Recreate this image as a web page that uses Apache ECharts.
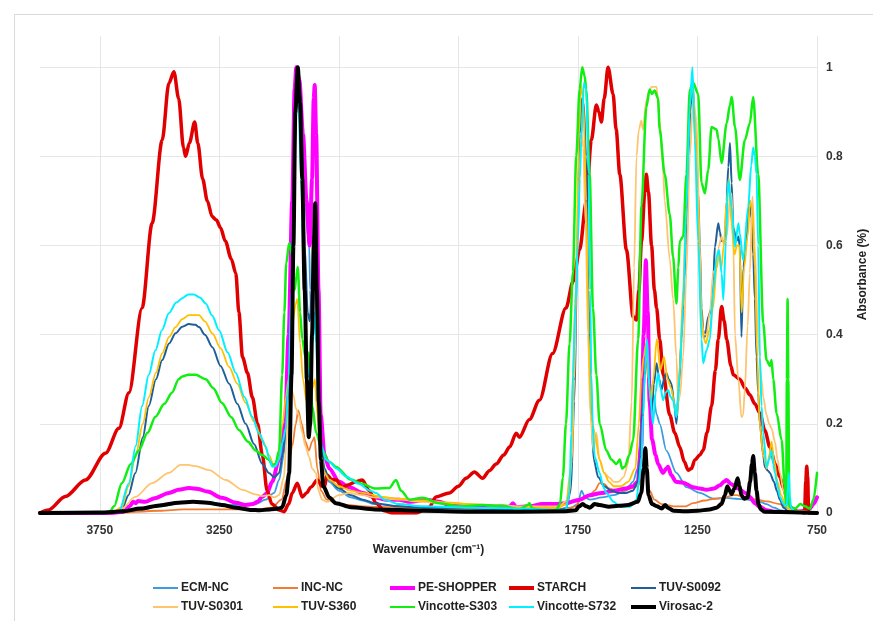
<!DOCTYPE html>
<html>
<head>
<meta charset="utf-8">
<script src="https://cdn.jsdelivr.net/npm/echarts@6/dist/echarts.min.js"></script>
<style>
html,body{margin:0;padding:0;background:#fff;}
#chart{width:873px;height:621px;}
</style>
</head>
<body>
<div id="chart"></div>
<script>
// ---- data: [wavenumber (cm-1), absorbance] ----
const seriesNames = ['ECM-NC','INC-NC','PE-SHOPPER','STARCH','TUV-S0092','TUV-S0301','TUV-S360','Vincotte-S303','Vincotte-S732','Virosac-2'];

const ecmNc = [[4000,0],[3700,0],[3600,0.005],[3500,0.015],[3400,0.024],[3350,0.026],[3300,0.025],[3200,0.018],[3100,0.02],[3056,0.03],[3021,0.045],[3000,0.074],[2980,0.13],[2965,0.25],[2950,0.5],[2938,0.8],[2925,0.93],[2915,0.9],[2903,0.8],[2890,0.7],[2880,0.62],[2874,0.6],[2870,0.5],[2866,0.44],[2858,0.5],[2851,0.56],[2843,0.42],[2833,0.25],[2822,0.13],[2810,0.09],[2790,0.07],[2750,0.05],[2700,0.035],[2650,0.028],[2600,0.02],[2500,0.015],[2400,0.012],[2200,0.01],[2000,0.008],[1850,0.008],[1780,0.012],[1750,0.02],[1735,0.05],[1720,0.035],[1700,0.03],[1650,0.035],[1600,0.04],[1550,0.05],[1520,0.07],[1500,0.1],[1485,0.2],[1472,0.32],[1464,0.34],[1455,0.3],[1436,0.27],[1420,0.22],[1408,0.2],[1380,0.14],[1338,0.09],[1296,0.058],[1240,0.045],[1184,0.032],[1128,0.034],[1090,0.032],[1045,0.03],[989,0.025],[961,0.02],[930,0.012],[900,0.006],[870,0.003],[750,0]];

const incNc = [[4000,0],[3700,0],[3500,0.005],[3400,0.008],[3300,0.008],[3100,0.008],[3030,0.012],[2990,0.03],[2965,0.08],[2945,0.15],[2930,0.2],[2920,0.23],[2905,0.2],[2890,0.16],[2875,0.14],[2862,0.16],[2852,0.17],[2840,0.1],[2825,0.05],[2800,0.03],[2750,0.02],[2650,0.015],[2500,0.012],[2300,0.01],[2000,0.008],[1800,0.008],[1760,0.015],[1740,0.03],[1720,0.035],[1700,0.04],[1680,0.05],[1659,0.067],[1640,0.065],[1620,0.055],[1590,0.05],[1560,0.05],[1530,0.055],[1500,0.06],[1480,0.08],[1468,0.1],[1460,0.08],[1450,0.05],[1430,0.03],[1400,0.02],[1350,0.015],[1300,0.015],[1268,0.022],[1220,0.028],[1180,0.032],[1142,0.034],[1100,0.04],[1086,0.04],[1050,0.035],[1000,0.03],[960,0.026],[905,0.02],[877,0.012],[850,0.006],[820,0.003],[750,0]];

const peShopper = [[4000,0],[3700,0],[3650,0.003],[3625,0.015],[3610,0.025],[3600,0.022],[3590,0.027],[3560,0.025],[3520,0.033],[3461,0.045],[3420,0.052],[3377,0.056],[3340,0.054],[3300,0.048],[3239,0.034],[3180,0.023],[3140,0.018],[3110,0.02],[3090,0.025],[3071,0.036],[3050,0.045],[3029,0.07],[3000,0.12],[2975,0.2],[2960,0.4],[2945,0.7],[2935,0.95],[2928,1.0],[2915,0.97],[2900,0.85],[2885,0.7],[2872,0.6],[2862,0.75],[2855,0.93],[2851,0.96],[2845,0.85],[2835,0.5],[2826,0.22],[2810,0.13],[2790,0.1],[2749,0.07],[2707,0.058],[2650,0.045],[2600,0.035],[2550,0.03],[2500,0.03],[2450,0.025],[2385,0.03],[2330,0.025],[2288,0.018],[2200,0.015],[2100,0.015],[2036,0.014],[2022,0.022],[2008,0.013],[1950,0.015],[1900,0.02],[1850,0.02],[1800,0.022],[1743,0.03],[1701,0.04],[1650,0.045],[1600,0.05],[1550,0.055],[1520,0.06],[1500,0.07],[1485,0.15],[1475,0.4],[1466,0.567],[1458,0.45],[1450,0.25],[1440,0.165],[1425,0.13],[1415,0.11],[1394,0.09],[1380,0.1],[1373,0.104],[1360,0.085],[1340,0.07],[1310,0.068],[1268,0.058],[1240,0.055],[1212,0.052],[1180,0.055],[1156,0.062],[1140,0.07],[1128,0.074],[1110,0.065],[1080,0.055],[1050,0.045],[1031,0.036],[1010,0.022],[989,0.014],[960,0.006],[930,0.003],[850,0.002],[800,0.005],[780,0.01],[765,0.02],[750,0.035]];

const starch = [[4000,0],[3964,0.007],[3894,0.037],[3810,0.074],[3726,0.134],[3670,0.19],[3628,0.27],[3573,0.46],[3531,0.65],[3489,0.836],[3461,0.964],[3440,0.99],[3420,0.93],[3400,0.82],[3391,0.80],[3375,0.83],[3353,0.877],[3340,0.83],[3320,0.75],[3300,0.70],[3280,0.665],[3262,0.657],[3245,0.64],[3225,0.61],[3200,0.57],[3181,0.538],[3168,0.45],[3153,0.35],[3132,0.314],[3112,0.26],[3090,0.2],[3070,0.13],[3050,0.05],[3030,0.02],[3000,0.007],[2979,0.003],[2960,0.02],[2945,0.045],[2924,0.067],[2903,0.036],[2885,0.045],[2867,0.058],[2840,0.074],[2820,0.06],[2811,0.058],[2799,0.085],[2780,0.075],[2761,0.074],[2736,0.058],[2710,0.063],[2680,0.07],[2652,0.074],[2623,0.05],[2594,0.022],[2560,0.005],[2526,0],[2426,0],[2390,0.008],[2372,0.013],[2344,0.036],[2288,0.045],[2250,0.06],[2218,0.078],[2183,0.092],[2149,0.078],[2120,0.095],[2092,0.11],[2060,0.13],[2036,0.148],[2008,0.179],[1995,0.17],[1953,0.21],[1911,0.253],[1856,0.358],[1800,0.46],[1770,0.52],[1743,0.59],[1715,0.70],[1694,0.836],[1673,0.915],[1662,0.9],[1652,0.877],[1640,0.93],[1624,1.0],[1603,0.94],[1590,0.86],[1575,0.76],[1547,0.59],[1519,0.44],[1505,0.433],[1495,0.5],[1484,0.61],[1470,0.72],[1464,0.76],[1455,0.72],[1442,0.6],[1430,0.5],[1421,0.46],[1408,0.39],[1393,0.31],[1366,0.22],[1345,0.18],[1324,0.148],[1305,0.115],[1289,0.096],[1275,0.1],[1261,0.119],[1240,0.13],[1226,0.141],[1210,0.18],[1191,0.24],[1175,0.32],[1163,0.39],[1149,0.463],[1138,0.43],[1128,0.39],[1110,0.33],[1100,0.31],[1073,0.30],[1050,0.28],[1031,0.265],[1010,0.245],[989,0.224],[968,0.185],[947,0.148],[925,0.11],[905,0.08],[890,0.055],[877,0.036],[863,0.015],[850,0.007],[820,0.002],[802,0],[797,0.07],[793,0.105],[789,0.08],[785,0],[750,0]];

const tuvS0092 = [[4000,0],[3700,0],[3658,0.007],[3630,0.04],[3601,0.09],[3570,0.17],[3545,0.24],[3515,0.3],[3489,0.343],[3460,0.38],[3433,0.403],[3405,0.418],[3377,0.424],[3350,0.422],[3335,0.417],[3310,0.4],[3279,0.372],[3245,0.33],[3209,0.29],[3175,0.245],[3140,0.2],[3105,0.155],[3070,0.11],[3042,0.09],[3020,0.08],[3000,0.09],[2985,0.13],[2970,0.2],[2958,0.3],[2945,0.5],[2935,0.8],[2925,0.97],[2915,0.97],[2905,0.85],[2893,0.6],[2880,0.45],[2872,0.43],[2862,0.5],[2853,0.6],[2845,0.5],[2835,0.3],[2825,0.16],[2810,0.1],[2790,0.075],[2750,0.055],[2700,0.04],[2650,0.03],[2600,0.022],[2500,0.015],[2400,0.012],[2200,0.01],[2000,0.007],[1850,0.006],[1800,0.01],[1780,0.05],[1765,0.25],[1752,0.6],[1742,0.85],[1734,0.93],[1726,0.92],[1716,0.8],[1706,0.5],[1696,0.25],[1684,0.12],[1665,0.08],[1640,0.06],[1610,0.05],[1580,0.045],[1550,0.045],[1520,0.05],[1500,0.07],[1490,0.12],[1478,0.25],[1468,0.33],[1457,0.343],[1448,0.26],[1442,0.224],[1432,0.29],[1421,0.336],[1410,0.3],[1400,0.276],[1390,0.3],[1380,0.314],[1370,0.3],[1359,0.29],[1348,0.25],[1338,0.2],[1328,0.28],[1317,0.39],[1305,0.52],[1296,0.65],[1288,0.8],[1280,0.9],[1271,0.97],[1261,0.874],[1254,0.8],[1247,0.72],[1240,0.6],[1233,0.46],[1226,0.41],[1219,0.395],[1205,0.44],[1191,0.46],[1184,0.52],[1177,0.597],[1163,0.65],[1156,0.63],[1149,0.61],[1135,0.61],[1128,0.7],[1121,0.776],[1114,0.83],[1107,0.74],[1100,0.64],[1086,0.61],[1079,0.62],[1073,0.6],[1066,0.395],[1058,0.55],[1045,0.62],[1031,0.70],[1024,0.66],[1017,0.58],[1010,0.48],[1003,0.35],[996,0.27],[989,0.2],[975,0.13],[968,0.103],[955,0.095],[947,0.09],[930,0.07],[918,0.05],[905,0.03],[890,0.012],[870,0.004],[750,0]];

const tuvS0301 = [[4000,0],[3700,0],[3658,0.01],[3601,0.036],[3531,0.067],[3461,0.09],[3412,0.108],[3380,0.108],[3349,0.105],[3293,0.096],[3223,0.074],[3153,0.052],[3100,0.042],[3070,0.038],[3042,0.04],[3020,0.035],[3000,0.04],[2980,0.08],[2970,0.15],[2960,0.24],[2950,0.28],[2940,0.265],[2930,0.235],[2918,0.22],[2903,0.18],[2890,0.15],[2874,0.126],[2862,0.1],[2846,0.09],[2835,0.05],[2820,0.03],[2800,0.025],[2750,0.04],[2707,0.045],[2650,0.04],[2600,0.035],[2497,0.03],[2400,0.025],[2300,0.022],[2200,0.02],[2100,0.018],[2000,0.015],[1900,0.015],[1830,0.015],[1790,0.03],[1775,0.12],[1765,0.3],[1755,0.55],[1745,0.75],[1735,0.85],[1728,0.82],[1718,0.65],[1708,0.4],[1698,0.22],[1685,0.14],[1673,0.18],[1660,0.12],[1640,0.09],[1620,0.08],[1600,0.07],[1580,0.07],[1560,0.08],[1540,0.11],[1525,0.25],[1515,0.55],[1505,0.8],[1495,0.86],[1485,0.88],[1478,0.86],[1464,0.926],[1450,0.95],[1442,0.956],[1421,0.956],[1408,0.88],[1395,0.78],[1387,0.7],[1366,0.57],[1352,0.48],[1338,0.35],[1331,0.247],[1324,0.26],[1310,0.35],[1296,0.54],[1282,0.8],[1268,0.93],[1254,0.88],[1240,0.6],[1233,0.43],[1222,0.4],[1212,0.4],[1198,0.45],[1184,0.54],[1170,0.55],[1160,0.6],[1149,0.62],[1138,0.6],[1128,0.62],[1114,0.7],[1107,0.717],[1100,0.6],[1093,0.4],[1079,0.3],[1066,0.215],[1059,0.22],[1052,0.276],[1040,0.42],[1031,0.538],[1020,0.71],[1010,0.6],[996,0.39],[982,0.3],[975,0.26],[961,0.22],[950,0.2],[940,0.19],[926,0.16],[915,0.12],[905,0.09],[890,0.05],[877,0.022],[860,0.006],[750,0]];

const tuvS360 = [[4000,0],[3700,0],[3658,0.013],[3630,0.06],[3601,0.126],[3570,0.2],[3545,0.26],[3515,0.315],[3489,0.358],[3460,0.395],[3433,0.417],[3405,0.435],[3377,0.444],[3335,0.444],[3310,0.43],[3279,0.403],[3245,0.37],[3209,0.328],[3175,0.29],[3140,0.247],[3105,0.205],[3070,0.164],[3042,0.13],[3021,0.104],[3005,0.12],[2985,0.2],[2972,0.26],[2960,0.3],[2945,0.42],[2930,0.47],[2924,0.48],[2912,0.38],[2900,0.3],[2885,0.25],[2874,0.24],[2860,0.28],[2850,0.3],[2840,0.22],[2828,0.14],[2810,0.09],[2790,0.075],[2750,0.06],[2700,0.05],[2650,0.045],[2568,0.036],[2500,0.032],[2400,0.028],[2300,0.024],[2200,0.02],[2100,0.016],[2000,0.012],[1900,0.012],[1830,0.012],[1800,0.02],[1780,0.1],[1760,0.5],[1745,0.85],[1737,0.96],[1728,0.93],[1715,0.7],[1705,0.4],[1695,0.22],[1680,0.18],[1660,0.12],[1640,0.09],[1620,0.07],[1600,0.06],[1570,0.06],[1540,0.07],[1510,0.1],[1495,0.2],[1485,0.3],[1475,0.35],[1465,0.38],[1455,0.3],[1445,0.25],[1435,0.3],[1420,0.39],[1405,0.32],[1390,0.35],[1375,0.3],[1360,0.28],[1345,0.24],[1335,0.22],[1325,0.32],[1310,0.5],[1295,0.75],[1282,0.92],[1272,0.97],[1262,0.9],[1250,0.72],[1238,0.5],[1228,0.4],[1215,0.38],[1200,0.41],[1185,0.46],[1170,0.55],[1160,0.58],[1150,0.55],[1140,0.6],[1128,0.7],[1118,0.75],[1108,0.65],[1095,0.58],[1085,0.6],[1075,0.6],[1065,0.45],[1055,0.55],[1040,0.62],[1030,0.7],[1020,0.68],[1010,0.55],[1000,0.35],[990,0.2],[975,0.13],[960,0.1],[950,0.13],[940,0.16],[930,0.12],[915,0.07],[900,0.04],[880,0.015],[860,0.005],[750,0]];

const vincotteS303 = [[4000,0],[3712,0],[3690,0.015],[3658,0.067],[3620,0.11],[3587,0.14],[3550,0.18],[3517,0.216],[3480,0.245],[3448,0.27],[3420,0.3],[3405,0.306],[3380,0.31],[3349,0.31],[3307,0.3],[3275,0.28],[3239,0.247],[3200,0.215],[3168,0.186],[3130,0.16],[3098,0.14],[3070,0.13],[3042,0.119],[3029,0.108],[3015,0.11],[3000,0.14],[2987,0.31],[2978,0.45],[2970,0.56],[2958,0.605],[2950,0.59],[2945,0.575],[2935,0.5],[2928,0.53],[2922,0.552],[2912,0.45],[2903,0.39],[2890,0.35],[2882,0.343],[2876,0.36],[2870,0.3],[2861,0.24],[2845,0.18],[2820,0.14],[2790,0.115],[2763,0.104],[2700,0.075],[2650,0.065],[2600,0.055],[2540,0.056],[2511,0.074],[2490,0.05],[2455,0.03],[2400,0.034],[2330,0.022],[2246,0.015],[2149,0.018],[2066,0.016],[1995,0.008],[1960,0.018],[1953,0.022],[1940,0.01],[1869,0.003],[1841,0.007],[1825,0.02],[1813,0.08],[1800,0.2],[1785,0.38],[1771,0.54],[1757,0.8],[1743,0.95],[1732,1.0],[1722,0.98],[1715,0.95],[1701,0.76],[1687,0.46],[1673,0.31],[1659,0.2],[1631,0.14],[1610,0.12],[1589,0.11],[1575,0.12],[1565,0.1],[1554,0.104],[1535,0.13],[1519,0.164],[1498,0.39],[1484,0.69],[1464,0.91],[1450,0.95],[1440,0.94],[1429,0.948],[1415,0.93],[1408,0.86],[1387,0.76],[1366,0.67],[1352,0.575],[1338,0.47],[1330,0.55],[1324,0.61],[1310,0.62],[1296,0.76],[1282,0.95],[1268,0.965],[1247,0.94],[1233,0.74],[1219,0.717],[1205,0.77],[1191,0.866],[1170,0.86],[1163,0.84],[1149,0.785],[1128,0.874],[1114,0.915],[1107,0.933],[1093,0.866],[1073,0.747],[1052,0.836],[1031,0.874],[1017,0.933],[996,0.76],[975,0.426],[961,0.343],[947,0.33],[940,0.343],[933,0.3],[919,0.224],[898,0.164],[885,0.06],[879,0.014],[876,0.3],[873,0.48],[870,0.3],[866,0.014],[840,0.01],[820,0.02],[800,0.015],[780,0.01],[765,0.03],[750,0.09]];

const vincotteS732 = [[4000,0],[3700,0],[3670,0.003],[3628,0.067],[3600,0.15],[3573,0.24],[3545,0.31],[3517,0.365],[3490,0.41],[3461,0.448],[3430,0.472],[3405,0.482],[3380,0.49],[3356,0.49],[3330,0.483],[3307,0.47],[3280,0.443],[3251,0.41],[3215,0.36],[3181,0.314],[3145,0.26],[3112,0.216],[3085,0.18],[3056,0.149],[3040,0.12],[3029,0.104],[3015,0.105],[3000,0.12],[2985,0.16],[2972,0.19],[2960,0.3],[2948,0.5],[2938,0.75],[2928,0.9],[2918,0.9],[2908,0.75],[2895,0.5],[2882,0.33],[2872,0.3],[2862,0.38],[2853,0.45],[2845,0.38],[2835,0.24],[2822,0.15],[2805,0.12],[2790,0.115],[2760,0.1],[2720,0.082],[2665,0.065],[2620,0.05],[2594,0.045],[2560,0.03],[2500,0.02],[2400,0.015],[2200,0.012],[2000,0.01],[1850,0.007],[1800,0.008],[1785,0.05],[1778,0.18],[1771,0.31],[1760,0.47],[1750,0.61],[1742,0.75],[1736,0.836],[1725,0.965],[1715,0.95],[1705,0.76],[1699,0.5],[1694,0.31],[1688,0.2],[1680,0.126],[1659,0.09],[1645,0.06],[1631,0.045],[1600,0.025],[1575,0.014],[1533,0.014],[1505,0.03],[1495,0.07],[1484,0.126],[1477,0.22],[1470,0.314],[1461,0.39],[1450,0.276],[1436,0.2],[1425,0.27],[1415,0.314],[1404,0.28],[1394,0.253],[1383,0.27],[1373,0.276],[1362,0.26],[1352,0.253],[1338,0.215],[1324,0.314],[1310,0.46],[1296,0.686],[1282,0.91],[1271,1.0],[1261,0.836],[1247,0.61],[1233,0.39],[1226,0.336],[1212,0.365],[1198,0.39],[1184,0.5],[1170,0.575],[1160,0.59],[1149,0.538],[1142,0.478],[1131,0.61],[1121,0.747],[1107,0.686],[1093,0.597],[1079,0.65],[1073,0.627],[1059,0.567],[1038,0.686],[1025,0.78],[1017,0.82],[1010,0.8],[1003,0.76],[996,0.6],[989,0.35],[982,0.24],[975,0.18],[961,0.103],[950,0.12],[940,0.14],[933,0.11],[926,0.09],[915,0.06],[905,0.036],[890,0.02],[877,0.015],[871,0.06],[868,0.09],[864,0.04],[858,0.01],[840,0.003],[750,0]];

const virosac2 = [[4000,0],[3750,0.001],[3650,0.004],[3580,0.01],[3500,0.017],[3420,0.023],[3360,0.025],[3300,0.023],[3240,0.018],[3180,0.012],[3120,0.007],[3080,0.006],[3040,0.008],[3000,0.01],[2987,0.013],[2970,0.04],[2958,0.09],[2948,0.31],[2940,0.6],[2932,0.9],[2922,1.0],[2912,0.92],[2903,0.75],[2893,0.5],[2884,0.3],[2876,0.17],[2870,0.2],[2862,0.4],[2855,0.6],[2849,0.695],[2842,0.5],[2834,0.25],[2825,0.12],[2815,0.06],[2790,0.035],[2763,0.022],[2700,0.013],[2600,0.008],[2400,0.005],[2200,0.003],[2000,0.003],[1800,0.004],[1760,0.006],[1745,0.015],[1730,0.02],[1715,0.015],[1700,0.012],[1680,0.02],[1660,0.018],[1620,0.014],[1580,0.016],[1540,0.018],[1500,0.025],[1485,0.045],[1475,0.1],[1468,0.145],[1462,0.1],[1455,0.04],[1440,0.02],[1420,0.015],[1400,0.01],[1385,0.018],[1375,0.012],[1350,0.005],[1300,0.004],[1250,0.005],[1200,0.008],[1170,0.012],[1150,0.02],[1135,0.04],[1125,0.06],[1115,0.05],[1108,0.042],[1095,0.055],[1082,0.078],[1074,0.06],[1066,0.04],[1055,0.032],[1040,0.035],[1030,0.07],[1022,0.11],[1017,0.128],[1010,0.09],[1003,0.05],[995,0.02],[985,0.008],[970,0.003],[750,0]];

const seriesData = [ecmNc, incNc, peShopper, starch, tuvS0092, tuvS0301, tuvS360, vincotteS303, vincotteS732, virosac2];
const seriesColors = ['#3d9be0','#f47c30','#ff00ff','#e00000','#1f5f99','#ffc46e','#ffc000','#11ee11','#00f0ff','#000000'];
const seriesWidths = [1.8,1.8,4,3.5,2,1.8,1.8,2.5,2,4];

// ---- chart ----
const chart = echarts.init(document.getElementById('chart'), null, {renderer:'canvas'});
const font = 'Liberation Sans, Arial, sans-serif';

const legendLeft = [153, 273, 390, 509, 631];
const legends = seriesNames.map((n, i) => ({
  data: [n],
  left: legendLeft[i % 5],
  top: i < 5 ? 582 : 601,
  icon: 'rect',
  itemWidth: 25,
  itemHeight: seriesWidths[i] >= 3 ? 4 : 2,
  padding: 0,
  textStyle: {fontFamily: font, fontSize: 12, fontWeight: 'bold', color: '#222', padding: [0,0,0,-2]}
}));

const option = {
  animation: false,
  backgroundColor: '#fff',
  graphic: [{type:'rect', left: 12, top: 12, shape:{width: 900, height: 700}, style:{fill:'none', stroke:'#d9d9d9', lineWidth:1}, silent:true}],
  grid: {left: 40, right: 56, top: 36, bottom: 108, containLabel: false, outerBoundsMode: 'none'},
  legend: legends,
  xAxis: {
    type: 'value', inverse: true, min: 750, max: 4000, interval: 500,
    name: 'Wavenumber (cm\u207B\u00B9)', nameLocation: 'middle', nameGap: 31,
    nameTextStyle: {fontFamily: font, fontSize: 12, fontWeight: 'bold', color: '#222'},
    axisLine: {show: true, lineStyle: {color: '#d9d9d9'}},
    axisTick: {show: false},
    axisLabel: {fontFamily: font, fontSize: 12, fontWeight: 'bold', color: '#333', margin: 12,
      formatter: v => (v > 3800 ? '' : String(v))},
    splitLine: {show: true, showMaxLine: false, lineStyle: {color: '#e6e6e6'}}
  },
  yAxis: {
    type: 'value', position: 'right', min: 0, max: 1.07, interval: 0.2,
    name: 'Absorbance (%)', nameLocation: 'middle', nameGap: 40, nameRotate: 90,
    nameTextStyle: {fontFamily: font, fontSize: 12, fontWeight: 'bold', color: '#222'},
    axisLine: {show: false}, axisTick: {show: false},
    axisLabel: {fontFamily: font, fontSize: 12, fontWeight: 'bold', color: '#333', margin: 9,
      formatter: v => (v > 1.01 ? '' : String(Math.round(v * 10) / 10))},
    splitLine: {show: true, showMaxLine: false, lineStyle: {color: '#e6e6e6'}}
  },
  series: seriesNames.map((n, i) => ({
    name: n, type: 'line', data: seriesData[i],
    showSymbol: false, symbol: 'none',
    smooth: 0.3, smoothMonotone: 'x',
    lineStyle: {color: seriesColors[i], width: seriesWidths[i], join: 'round', cap: 'round'},
    itemStyle: {color: seriesColors[i]},
    z: 2 + i
  }))
};
chart.setOption(option);
</script>
</body>
</html>
